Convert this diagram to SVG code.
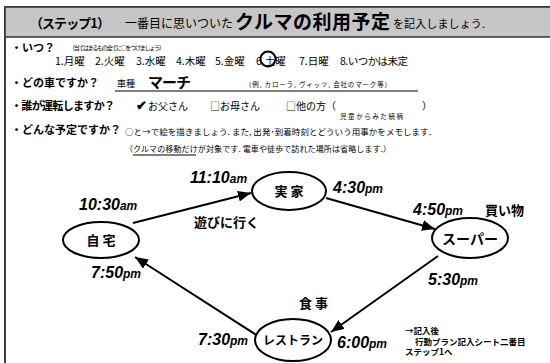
<svg xmlns="http://www.w3.org/2000/svg" width="550" height="363" viewBox="0 0 550 363">
<defs>
<style>
text{font-family:"Noto Sans CJK JP","Noto Sans",sans-serif;fill:#000}
.b{font-weight:bold}
.t{font-family:"Liberation Sans","Noto Sans CJK JP",sans-serif;font-weight:bold;font-style:italic;font-size:16px}
.t tspan{font-size:12px}
.node ellipse{fill:#fff;stroke:#000;stroke-width:2}
.node text{font-weight:bold;text-anchor:middle}
.conn line{stroke:#000;stroke-width:2;marker-end:url(#ah)}
</style>
<marker id="ah" viewBox="0 0 12 10" refX="12" refY="5" markerWidth="13" markerHeight="11" markerUnits="userSpaceOnUse" orient="auto">
<path d="M0,0 L12,5 L0,10 Z" fill="#000"/>
</marker>
</defs>
<rect x="0" y="0" width="550" height="363" fill="#fff"/>
<rect x="5" y="7" width="560" height="400" fill="#fff" stroke="#000" stroke-width="1.5"/>
<rect x="5" y="7" width="560" height="30" fill="#c6c6c6" stroke="#333" stroke-width="1.5"/>

<g id="header">
<text x="30" y="28" class="b" font-size="13" textLength="80">（ステップ1）</text>
<text x="125" y="28" font-size="12" textLength="108">一番目に思いついた</text>
<text x="235" y="29" class="b" font-size="19" textLength="155">クルマの利用予定</text>
<text x="393" y="28" font-size="11" textLength="92">を記入しましょう.</text>
</g>

<g id="q1">
<text x="11" y="52" class="b" font-size="11">・いつ？</text>
<text x="69" y="50" font-size="6" textLength="96">（当てはまるもの全てに○をつけましょう.）</text>
<text x="55" y="65" font-size="10.5">1.月曜</text>
<text x="95" y="65" font-size="10.5">2.火曜</text>
<text x="136" y="65" font-size="10.5">3.水曜</text>
<text x="176" y="65" font-size="10.5">4.木曜</text>
<text x="215" y="65" font-size="10.5">5.金曜</text>
<text x="256" y="65" font-size="10.5">6.土曜</text>
<text x="299" y="65" font-size="10.5">7.日曜</text>
<text x="340" y="65" font-size="10.5" textLength="68">8.いつかは未定</text>
<circle cx="268" cy="59" r="7.5" fill="none" stroke="#000" stroke-width="2"/>
</g>

<g id="q2">
<text x="11" y="87" class="b" font-size="11">・どの車ですか？</text>
<text x="117" y="87" font-size="9">車種</text>
<text x="148" y="88" class="b" font-size="15" textLength="43">マーチ</text>
<text x="245" y="87" font-size="6.5" textLength="146">（例, カローラ, ヴィッツ, 会社のマーク等）</text>
<line x1="115" y1="91" x2="418" y2="91" stroke="#000" stroke-width="1"/>
</g>

<g id="q3">
<text x="11" y="110" class="b" font-size="11" textLength="104">・誰が運転しますか？</text>
<text x="136" y="110" class="b" font-size="13">✔</text>
<text x="148" y="110" font-size="10">お父さん</text>
<text x="210" y="110" font-size="10">□お母さん</text>
<text x="286" y="110" font-size="10">□他の方（</text>
<text x="422" y="110" font-size="10">）</text>
<text x="340" y="119" font-size="6.5" textLength="63">児童からみた続柄</text>
</g>

<g id="q4">
<text x="11" y="134" class="b" font-size="11" textLength="110">・どんな予定ですか？</text>
<text x="125" y="135" font-size="8.5" textLength="306">○と→で絵を描きましょう. また, 出発･到着時刻とどういう用事かをメモします.</text>
<text x="125" y="152" font-size="8" textLength="266">（クルマの移動だけが対象です. 電車や徒歩で訪れた場所は省略します.）</text>
<line x1="133" y1="155" x2="196" y2="155" stroke="#000" stroke-width="1"/>
</g>

<g class="conn" id="connectors">
<line x1="133" y1="223" x2="251" y2="193"/>
<line x1="326" y1="198" x2="435" y2="229"/>
<line x1="438" y1="256" x2="331" y2="332"/>
<line x1="258" y1="336" x2="135" y2="257"/>
</g>

<g class="node" id="home">
<ellipse cx="101" cy="240" rx="38" ry="18"/>
<text x="101" y="245" font-size="13">自 宅</text>
</g>
<g class="node" id="jikka">
<ellipse cx="289" cy="191" rx="37" ry="19"/>
<text x="289" y="196" font-size="13">実 家</text>
</g>
<g class="node" id="super">
<ellipse cx="470" cy="238" rx="38" ry="20"/>
<text x="470" y="244" font-size="14">スーパー</text>
</g>
<g class="node" id="restaurant">
<ellipse cx="293" cy="340" rx="38" ry="21"/>
<text x="293" y="345" font-size="12">レストラン</text>
</g>

<g id="labels">
<text x="79" y="210" class="t">10:30<tspan>am</tspan></text>
<text x="190" y="183" class="t">11:10<tspan>am</tspan></text>
<text x="194" y="227" class="b" font-size="13">遊びに行く</text>
<text x="333" y="193" class="t">4:30<tspan>pm</tspan></text>
<text x="413" y="215" class="t">4:50<tspan>pm</tspan></text>
<text x="485" y="215" class="b" font-size="13">買い物</text>
<text x="428" y="285" class="t">5:30<tspan>pm</tspan></text>
<text x="299" y="308" class="b" font-size="13">食 事</text>
<text x="337" y="348" class="t">6:00<tspan>pm</tspan></text>
<text x="198" y="345" class="t">7:30<tspan>pm</tspan></text>
<text x="91" y="278" class="t">7:50<tspan>pm</tspan></text>
<text x="405" y="334" class="b" font-size="8.5">→記入後</text>
<text x="415" y="344.5" class="b" font-size="8.5">行動プラン記入シート二番目</text>
<text x="405" y="355" class="b" font-size="8.5">ステップ1へ</text>
</g>
</svg>
